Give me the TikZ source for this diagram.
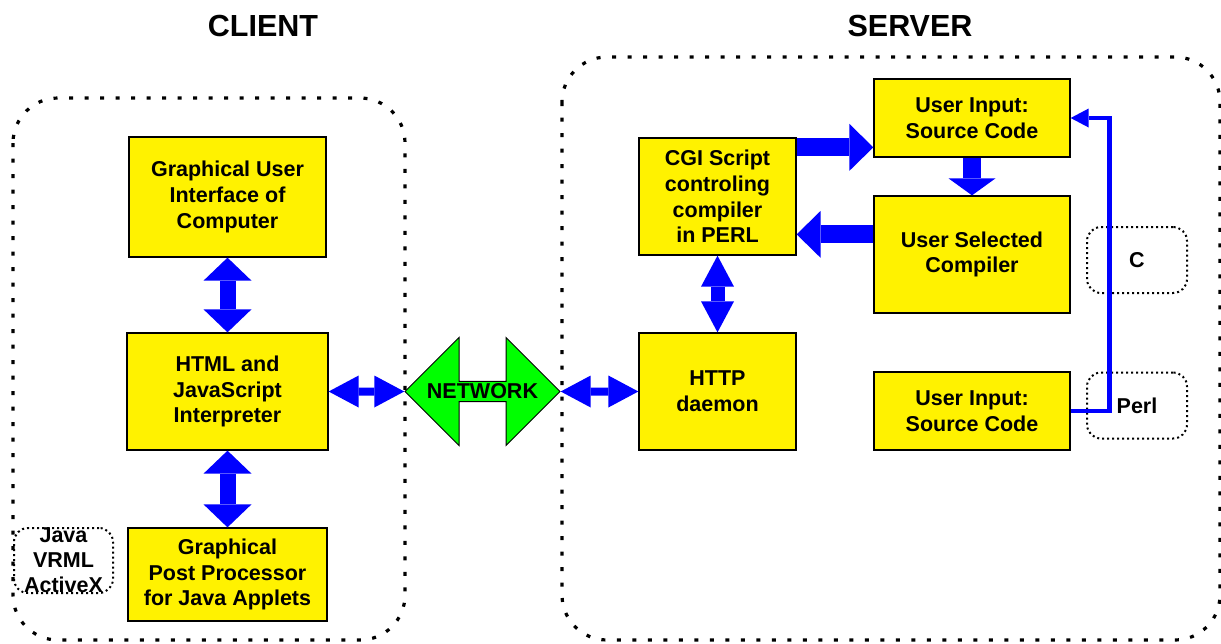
\documentclass[tikz,border=0pt]{standalone}
\usepackage{fontspec}
\setmainfont{Liberation Sans}
\usetikzlibrary{arrows.meta,shapes.arrows}

\begin{document}
\begin{tikzpicture}[x=1pt, y=-1pt,
    box/.style={draw, line width=1.3pt, fill=yellow, align=center, inner sep=0pt,
        font=\bfseries\fontsize{21.5}{25.7}\selectfont},
    tag/.style={draw, line width=2pt, dash pattern=on 2pt off 3pt, rounded corners=14pt,
        align=center, inner sep=0pt, minimum width=100pt, minimum height=66pt,
        font=\bfseries\fontsize{21.5}{25}\selectfont},
    zone/.style={draw, line width=3.2pt, dash pattern=on 4pt off 11.5pt, rounded corners=45pt},
    title/.style={font=\bfseries\fontsize{30.5}{36}\selectfont},
    net/.style={double arrow, draw, line width=1pt, fill=green, inner sep=0pt,
        minimum height=155pt, minimum width=108pt, double arrow head extend=35.5pt,
        font=\bfseries\fontsize{21.5}{25.7}\selectfont},
    fat/.style={blue, line width=16pt,
        {Triangle[length=23pt,width=48pt,line width=0pt]}-{Triangle[length=23pt,width=48pt,line width=0pt]}},
    slim/.style={blue, line width=8pt,
        {Triangle[length=30pt,width=32pt,line width=0pt]}-{Triangle[length=30pt,width=32pt,line width=0pt]}},
    mid/.style={blue, line width=14pt,
        {Triangle[length=31pt,width=33pt,line width=0pt]}-{Triangle[length=31pt,width=33pt,line width=0pt]}},
    push/.style={blue, line width=18pt, -{Triangle[length=#1,width=47pt,line width=0pt]}},
    feed/.style={blue, line width=4.5pt, -{Triangle[length=18pt,width=19pt,line width=0pt]}}]
    \useasboundingbox (0,0) rectangle (1221,643);

    % Draw frames
    \draw[zone] (13,98) rectangle (405,640);
    \draw[zone] (562,57) rectangle (1220,640);
    \node[title] (client) at (263,25.5) {CLIENT};
    \node[title] (server) at (910,25.5) {SERVER};

    % Draw nodes
    \node[box, minimum width=197pt, minimum height=120pt] (gui) at (227.5,197) {Graphical User\\Interface of\\Computer};
    \node[box, minimum width=201pt, minimum height=117pt] (html) at (227.5,391.5) {HTML and\\JavaScript\\Interpreter};
    \node[box, minimum width=199pt, minimum height=93pt] (post) at (227.5,574.5) {Graphical\\Post Processor\\for Java Applets};
    \node[tag, minimum width=99pt, minimum height=65pt] (java) at (63.5,560.5) {Java\\VRML\\ActiveX};
    \node[net] (net) at (482.5,391.5) {\makebox[0pt]{NETWORK}};
    \node[box, minimum width=157pt, minimum height=117pt] (cgi) at (717.5,196.5) {CGI Script\\controling\\compiler\\in PERL};
    \node[box, minimum width=157pt, minimum height=117pt] (http) at (717.5,391.5) {HTTP\\daemon};
    \node[box, minimum width=196pt, minimum height=78pt] (upin) at (972,118) {User Input:\\Source Code};
    \node[box, minimum width=196pt, minimum height=117pt] (comp) at (972,254.5) {User Selected\\Compiler};
    \node[box, minimum width=196pt, minimum height=78pt] (lowin) at (972,411) {User Input:\\Source Code};
    \node[tag] (c) at (1137,260) {C};
    \node[tag] (perl) at (1137,405.5) {Perl};
    \coordinate (cgiout) at ([yshift=-10pt]cgi.north east);
    \coordinate (compout) at ([yshift=-39pt]comp.north west);

    % Draw edges
    \draw[fat] (gui) -- (html);
    \draw[fat] (html) -- (post);
    \draw[slim] (html) -- (net);
    \draw[slim] (net) -- (http);
    \draw[mid] (cgi) -- (http);
    \draw[push=24pt] (cgiout) -- (cgiout -| upin.west);
    \draw[push=17pt] (upin) -- (comp);
    \draw[push=24pt] (compout) -- (compout -| cgi.east);
    \draw[feed] (lowin.east) -- ++(39,0) |- (upin.east);
\end{tikzpicture}
\end{document}
